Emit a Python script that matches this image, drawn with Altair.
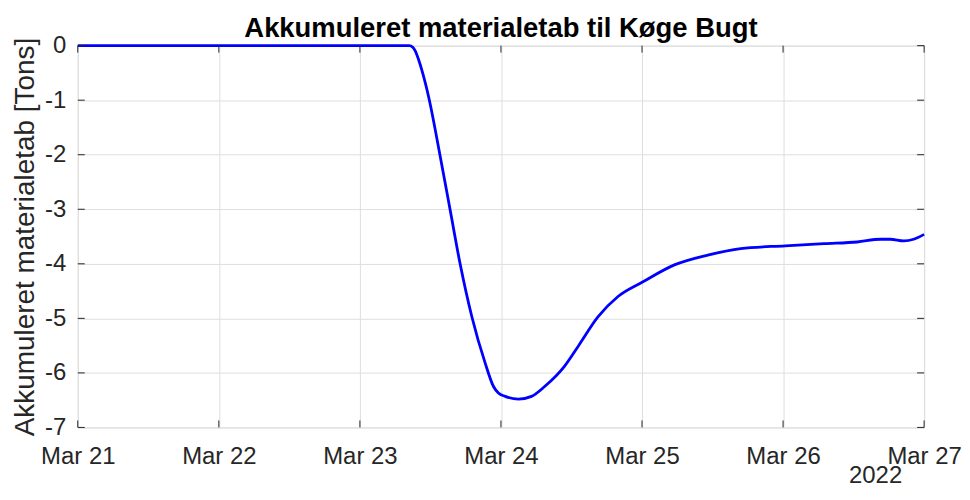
import altair as alt
import pandas as pd

# ---- data ----
times = [
    "2022-03-21T00:00", "2022-03-23T08:24", "2022-03-23T09:00", "2022-03-23T09:26",
    "2022-03-23T09:58", "2022-03-23T10:34", "2022-03-23T11:43", "2022-03-23T13:41",
    "2022-03-23T15:22", "2022-03-23T17:02", "2022-03-23T19:03", "2022-03-23T21:19",
    "2022-03-23T22:44", "2022-03-23T23:34", "2022-03-24T00:43", "2022-03-24T02:59",
    "2022-03-24T05:12", "2022-03-24T07:26", "2022-03-24T10:48", "2022-03-24T13:09",
    "2022-03-24T16:32", "2022-03-24T19:55", "2022-03-25T00:10", "2022-03-25T05:31",
    "2022-03-25T11:11", "2022-03-25T16:48", "2022-03-26T00:22", "2022-03-26T06:58",
    "2022-03-26T12:37", "2022-03-26T16:34", "2022-03-26T18:14", "2022-03-26T20:33",
    "2022-03-26T22:13", "2022-03-27T00:00",
]
values = [
    0.0, 0.0, -0.03, -0.10,
    -0.25, -0.46, -0.95, -2.04,
    -3.02, -3.99, -4.97, -5.82,
    -6.25, -6.37, -6.43, -6.48,
    -6.43, -6.25, -5.88, -5.51,
    -4.97, -4.60, -4.33, -4.02,
    -3.84, -3.72, -3.67, -3.63,
    -3.60, -3.55, -3.55, -3.58,
    -3.55, -3.46,
]
x_tick_days = [21, 22, 23, 24, 25, 26, 27]
x_tick_times = ["2022-03-%02dT00:00" % d for d in x_tick_days]
y_ticks = [0, -1, -2, -3, -4, -5, -6, -7]
year_label = ["2022"]
year_label_time = ["2022-03-27T00:00"]

title_text = "Akkumuleret materialetab til Køge Bugt"
y_title = "Akkumuleret materialetab [Tons]"

# ---- layout / style ----
W, H = 849, 383
FONT = "Liberation Sans"
AX = "#262626"
GRID = "#dedede"
TICK = 7

df = pd.DataFrame({"t": times, "v": values})
xt = pd.DataFrame({"t": x_tick_times})
yt = pd.DataFrame({"v": y_ticks})
yl = pd.DataFrame({"t": year_label_time, "label": year_label})

x_scale = alt.Scale(
    domain=[alt.DateTime(year=2022, month=3, date=21), alt.DateTime(year=2022, month=3, date=27)],
    nice=False,
)
y_scale = alt.Scale(domain=[-7, 0], nice=False)

x_axis = alt.Axis(
    values=[alt.DateTime(year=2022, month=3, date=d) for d in x_tick_days],
    format="%b %d",
    labelFont=FONT, labelFontSize=24, labelColor=AX, labelPadding=17,
    labelFlush=False, labelOverlap=False,
    ticks=False, domain=False, grid=True, gridColor=GRID, gridWidth=1,
    title=None,
)
y_axis = alt.Axis(
    values=y_ticks,
    labelExpr="'' + datum.value",
    labelFont=FONT, labelFontSize=24, labelColor=AX, labelPadding=12,
    labelFlush=False, labelOverlap=False,
    ticks=False, domain=False, grid=True, gridColor=GRID, gridWidth=1,
    title=y_title, titleFont=FONT, titleFontSize=28, titleFontWeight="normal",
    titleColor=AX, titleX=-44.5, titleY=H / 2, titleAngle=270,
    titleBaseline="alphabetic", titleAlign="center",
)

line = alt.Chart(df).mark_line(color="#0000ff", strokeWidth=2.8, interpolate="monotone").encode(
    x=alt.X("t:T", scale=x_scale, axis=x_axis),
    y=alt.Y("v:Q", scale=y_scale, axis=y_axis),
)

tick_style = dict(color=AX, strokeWidth=1)
bottom_ticks = alt.Chart(xt).mark_rule(**tick_style).encode(
    x=alt.X("t:T"), y=alt.value(H), y2=alt.value(H - TICK))
top_ticks = alt.Chart(xt).mark_rule(**tick_style).encode(
    x=alt.X("t:T"), y=alt.value(0), y2=alt.value(TICK))
left_ticks = alt.Chart(yt).mark_rule(**tick_style).encode(
    y=alt.Y("v:Q"), x=alt.value(0), x2=alt.value(TICK))
right_ticks = alt.Chart(yt).mark_rule(**tick_style).encode(
    y=alt.Y("v:Q"), x=alt.value(W), x2=alt.value(W - TICK))

year = alt.Chart(yl).mark_text(
    font=FONT, fontSize=24, color=AX, align="right", baseline="alphabetic", dx=-22
).encode(
    x=alt.X("t:T"), y=alt.value(H + 56), text="label:N")

chart = alt.layer(
    line, bottom_ticks, top_ticks, left_ticks, right_ticks, year
).properties(
    width=W, height=H,
    title=alt.TitleParams(
        text=title_text, font=FONT, fontSize=27.5, fontWeight="bold", color="#000000",
        anchor="middle", offset=4, dy=13,
    ),
    autosize=alt.AutoSizeParams(type="none"),
    padding={"left": 70, "top": 37, "right": 38, "bottom": 60},
).configure_view(stroke=AX, strokeWidth=1).configure(background="white")

chart.save("out.html", embed_options={"renderer": "svg", "actions": False})
